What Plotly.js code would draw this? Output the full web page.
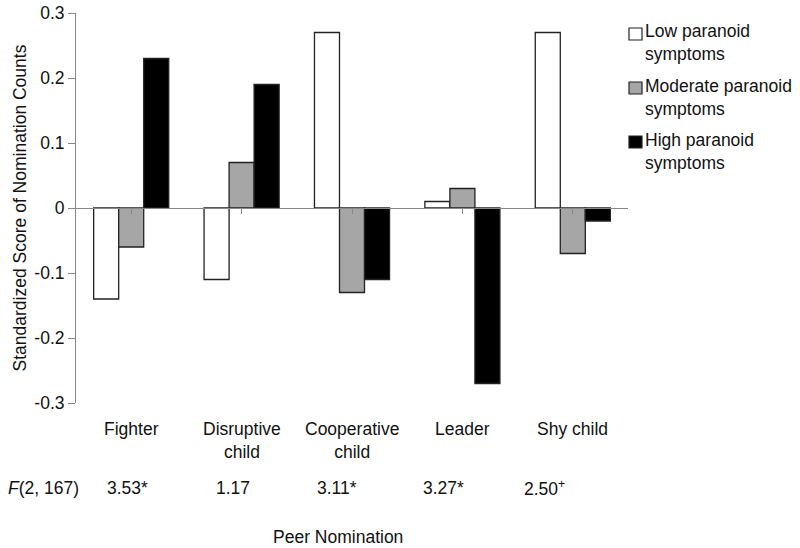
<!DOCTYPE html>
<html>
<head>
<meta charset="utf-8">
<script src="https://cdn.plot.ly/plotly-3.0.1.min.js"></script>
<style>html,body{margin:0;padding:0;background:#fff;}#chart{width:800px;height:548px;}</style>
</head>
<body>
<div id="chart"></div>
<script>
const categories = ["Fighter", "Disruptive<br>child", "Cooperative<br>child", "Leader", "Shy child"];
const seriesNames = ["Low paranoid<br>symptoms", "Moderate paranoid<br>symptoms", "High paranoid<br>symptoms"];
const lowValues = [-0.14, -0.11, 0.27, 0.01, 0.27];
const moderateValues = [-0.06, 0.07, -0.13, 0.03, -0.07];
const highValues = [0.23, 0.19, -0.11, -0.27, -0.02];
const fLabel = "<i>F</i>(2, 167)";
const fStats = ["3.53*", "1.17", "3.11*", "3.27*", "2.50<sup>+</sup>"];
const yTickVals = [0.3, 0.2, 0.1, 0, -0.1, -0.2, -0.3];
const yTickText = ["0.3", "0.2", "0.1", "0", "-0.1", "-0.2", "-0.3"];

const fills = ["#ffffff", "#a6a6a6", "#000000"];
const allValues = [lowValues, moderateValues, highValues];
const font = "Liberation Sans, Arial, sans-serif";
const fs = 17.5;

const traces = allValues.map((v, i) => ({
  type: "bar",
  x: categories.map((c, j) => j),
  y: v,
  name: seriesNames[i],
  marker: {color: fills[i], line: {color: "#222", width: 1.3}},
  hoverinfo: "none"
}));

const plotL = 76, plotR = 628, plotT = 13, plotB = 403;
const pw = plotR - plotL, ph = plotB - plotT;
const px = x => (x - plotL) / pw;
const py = y => (plotB - y) / ph;

const annotations = [];
categories.forEach((c, j) => {
  annotations.push({x: j, xref: "x", y: py(417), yref: "paper", yanchor: "top", xanchor: "center",
    text: c, showarrow: false, font: {family: font, size: fs, color: "#111"}, align: "center"});
});
annotations.push({x: px(6), xref: "paper", y: py(488), yref: "paper", xanchor: "left", yanchor: "middle",
  text: fLabel, showarrow: false, font: {family: font, size: fs, color: "#111"}});
const fCenters = [127, 233, 337, 443, 544];
fStats.forEach((s, j) => {
  annotations.push({x: px(fCenters[j]), xref: "paper", y: py(488), yref: "paper", xanchor: "center", yanchor: "middle",
    text: s, showarrow: false, font: {family: font, size: fs, color: "#111"}});
});
annotations.push({x: px(338), xref: "paper", y: py(537), yref: "paper", xanchor: "center", yanchor: "middle",
  text: "Peer Nomination", showarrow: false, font: {family: font, size: fs, color: "#111"}});

// custom legend
const shapes = [];
const legendBoxTops = [28, 82, 136];
const legendCenters = [43, 97, 151];
seriesNames.forEach((n, i) => {
  shapes.push({type: "rect", xref: "paper", yref: "paper",
    x0: px(629), x1: px(642), y0: py(legendBoxTops[i]), y1: py(legendBoxTops[i] + 12),
    fillcolor: fills[i], line: {color: "#222", width: 1.2}});
  annotations.push({x: px(643), xref: "paper", y: py(legendCenters[i]), yref: "paper",
    xanchor: "left", yanchor: "middle", align: "left", text: n, showarrow: false,
    font: {family: font, size: fs, color: "#111"}});
});

const layout = {
  width: 800, height: 548,
  margin: {l: plotL, r: 800 - plotR, t: plotT, b: 548 - plotB, pad: 0},
  paper_bgcolor: "#fff", plot_bgcolor: "#fff",
  showlegend: false,
  barmode: "group", bargap: 0.32, bargroupgap: 0,
  font: {family: font, size: fs, color: "#111"},
  xaxis: {
    range: [-0.5, 4.5], anchor: "free", position: 0.5,
    showline: true, linecolor: "#888", linewidth: 1,
    ticks: "outside", ticklen: 5, tickcolor: "#888", tickson: "boundaries",
    tickvals: [0, 1, 2, 3, 4], showticklabels: false, showgrid: false, zeroline: false
  },
  yaxis: {
    range: [-0.3, 0.3], showline: true, linecolor: "#888", linewidth: 1,
    ticks: "outside", ticklen: 7, tickcolor: "#888",
    tickvals: yTickVals, ticktext: yTickText,
    tickfont: {family: font, size: fs, color: "#111"},
    showgrid: false, zeroline: false,
    title: {text: "Standardized Score of Nomination Counts", font: {family: font, size: fs, color: "#111"}, standoff: 3}
  },
  annotations: annotations,
  shapes: shapes
};

Plotly.newPlot("chart", traces, layout, {staticPlot: true});
</script>
</body>
</html>
